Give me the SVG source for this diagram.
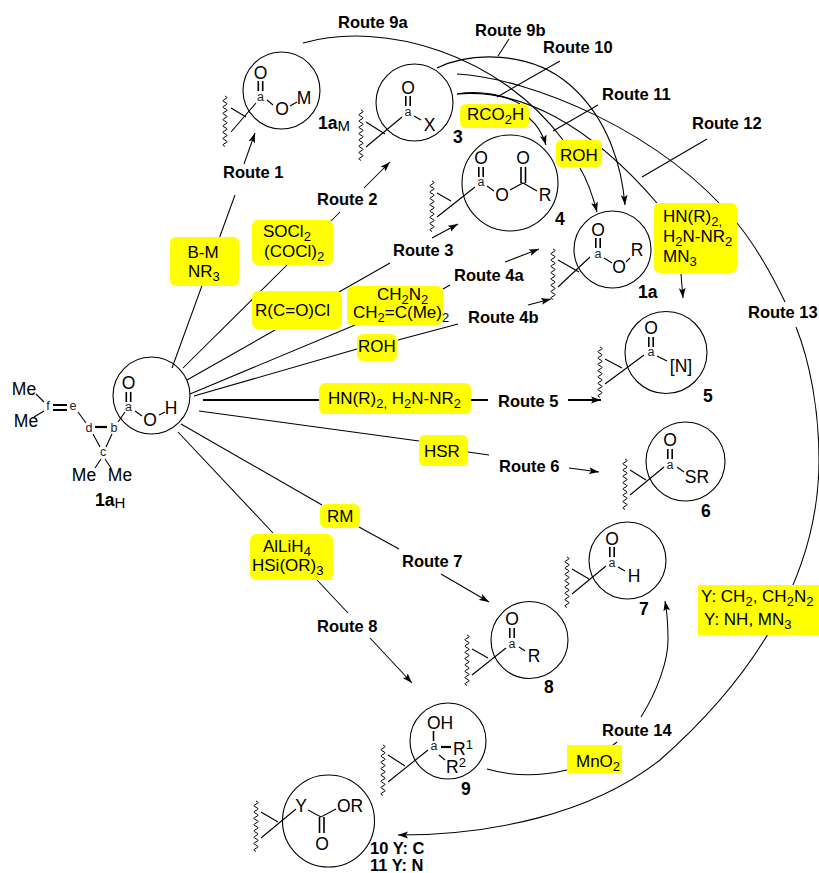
<svg xmlns="http://www.w3.org/2000/svg" width="819" height="873" viewBox="0 0 819 873">
<style>
text{font-family:"Liberation Sans",Arial,sans-serif;fill:#000}
.ring{fill:none;stroke:#000;stroke-width:1.1}
.b{fill:none;stroke:#000;stroke-width:1.1}
.d{fill:none;stroke:#000;stroke-width:1.6}
.t{fill:none;stroke:#000;stroke-width:2.2}
.w{fill:none;stroke:#000;stroke-width:1}
.c{fill:none;stroke:#000;stroke-width:1.05}
.ar{marker-end:url(#ah)}
.box{fill:#ffff00}
.at{font-size:17.5px;text-anchor:middle}
.atl{font-size:17.5px}
.sm{font-size:12.5px;text-anchor:middle;fill:#222}
.r{font-size:16.5px;font-weight:bold}
.n{font-size:17.5px;font-weight:bold}
.sub{font-size:15px;font-weight:normal}
.q{font-size:17px}
.s{font-size:13px}
</style>
<defs>
<marker id="ah" markerUnits="userSpaceOnUse" markerWidth="12" markerHeight="8" refX="10" refY="4" orient="auto"><path d="M0,0.6 L10,4 L0,7.4 L2.2,4 Z" fill="#000"/></marker>
<path id="wave" class="w" d="M0,0q4,1.6 0,3.15q-4,1.6 0,3.15q4,1.6 0,3.15q-4,1.6 0,3.15q4,1.6 0,3.15q-4,1.6 0,3.15q4,1.6 0,3.15q-4,1.6 0,3.15q4,1.6 0,3.15q-4,1.6 0,3.15q4,1.6 0,3.15q-4,1.6 0,3.15q4,1.6 0,3.15q-4,1.6 0,3.15q4,1.6 0,3.15q-4,1.6 0,3.15"/>
</defs>

<g id="connectors">
<path class="c" d="M172,368L235,195"/>
<path class="c ar" d="M244,164L255,133"/>
<path class="c" d="M183,368L287,265M331,221L340,212"/>
<path class="c ar" d="M364,188L390,162"/>
<path class="c" d="M187,380L275,330M339,292L390,263"/>
<path class="c ar" d="M432,238L458,224"/>
<path class="c" d="M190,394L355,325M443,289L450,285"/>
<path class="c ar" d="M505,262L539,249"/>
<path class="c" d="M194,396L357,349M398,340L458,324"/>
<path class="c ar" d="M528,305L551,299"/>
<path class="t" d="M203,400L320,400M471,400L488,400"/>
<path class="t ar" d="M568,400L601,400" style="stroke-width:1.8"/>
<path class="c" d="M199,411L419,441M468,452L489,455"/>
<path class="c ar" d="M569,468L599,472"/>
<path class="c" d="M181,424L322,505M359,527L399,549"/>
<path class="c ar" d="M441,574L489,602"/>
<path class="c" d="M178,432L273,533M317,580L348,613"/>
<path class="c ar" d="M370,638L412,683"/>
<path class="c" d="M303,43C385,20 500,55 563,140"/>
<path class="c ar" d="M580,168Q590,185 597,212"/>
<path class="c ar" d="M437,68C470,52 530,50 570,85C610,120 622,170 625,205"/>
<path class="c" d="M457,94C480,90 505,95 520,104"/>
<path class="c ar" d="M529,118Q541,128 546,145"/>
<path class="c" d="M457,94C520,88 590,125 657,203"/>
<path class="c ar" d="M681,274L683,298"/>
<path class="c" d="M457,74C530,78 660,130 737,223C755,245 772,275 785,302"/>
<path class="c ar" d="M796,327C810,362 819,410 819,460C819,570 760,672 660,760C590,815 490,835 398,835"/>
<path class="c" d="M509,39L498,56M560,61L497,97M598,105L553,131M707,139L642,177"/>
<path class="c" d="M487,769Q525,780 567,770M613,745L617,742"/>
<path class="c ar" d="M641,717C658,690 668,660 668,640C668,625 667,612 665,601"/>
</g>

<g id="reagents">
<g id="r-bm"><rect class="box" x="170" y="237" width="69" height="49" rx="6"/><text class="q" x="203" y="258" text-anchor="middle">B-M</text><text class="q" x="188" y="277">NR<tspan class="s" dy="4">3</tspan></text></g>
<g id="r-socl"><rect class="box" x="252" y="220" width="81" height="45" rx="6"/><text class="q" x="263" y="237">SOCl<tspan class="s" dy="4">2</tspan></text><text class="q" x="264" y="257">(COCl)<tspan class="s" dy="4">2</tspan></text></g>
<g id="r-rcocl"><rect class="box" x="252" y="291" width="90" height="38" rx="6"/><text class="q" x="255" y="316">R(C=O)Cl</text></g>
<g id="r-ch2n2"><rect class="box" x="347" y="286" width="96" height="39" rx="6"/><text class="q" x="377" y="300">CH<tspan class="s" dy="4">2</tspan><tspan dy="-4">N</tspan><tspan class="s" dy="4">2</tspan></text><text class="q" x="353" y="318">CH<tspan class="s" dy="4">2</tspan><tspan dy="-4">=C(Me)</tspan><tspan class="s" dy="4">2</tspan></text></g>
<g id="r-roh1"><rect class="box" x="357" y="334" width="40" height="27" rx="6"/><text class="q" x="358" y="352">ROH</text></g>
<g id="r-amine"><rect class="box" x="319" y="383" width="152" height="31" rx="6"/><text class="q" x="328" y="404">HN(R)<tspan class="s" dy="4">2,</tspan><tspan dy="-4"> H</tspan><tspan class="s" dy="4">2</tspan><tspan dy="-4">N-NR</tspan><tspan class="s" dy="4">2</tspan></text></g>
<g id="r-hsr"><rect class="box" x="419" y="435" width="49" height="31" rx="6"/><text class="q" x="424" y="457">HSR</text></g>
<g id="r-rm"><rect class="box" x="320" y="504" width="40" height="24" rx="6"/><text class="q" x="327" y="522">RM</text></g>
<g id="r-allih"><rect class="box" x="250" y="534" width="83" height="46" rx="6"/><text class="q" x="263" y="552">AlLiH<tspan class="s" dy="4">4</tspan></text><text class="q" x="252" y="571">HSi(OR)<tspan class="s" dy="4">3</tspan></text></g>
<g id="r-rco2h"><rect class="box" x="460" y="104" width="69" height="24" rx="6"/><text class="q" x="467" y="120">RCO<tspan class="s" dy="4">2</tspan><tspan dy="-4">H</tspan></text></g>
<g id="r-roh2"><rect class="box" x="556" y="140" width="46" height="27" rx="5"/><text class="q" x="560" y="161">ROH</text></g>
<g id="r-hn"><rect class="box" x="654" y="203" width="83" height="70" rx="6"/><text class="q" x="663" y="222">HN(R)<tspan class="s" dy="4">2,</tspan></text><text class="q" x="663" y="242">H<tspan class="s" dy="4">2</tspan><tspan dy="-4">N-NR</tspan><tspan class="s" dy="4">2</tspan></text><text class="q" x="663" y="262">MN<tspan class="s" dy="4">3</tspan></text></g>
<g id="r-y"><rect class="box" x="698" y="585" width="121" height="50"/><text class="q" x="701" y="602">Y: CH<tspan class="s" dy="4">2</tspan><tspan dy="-4">, CH</tspan><tspan class="s" dy="4">2</tspan><tspan dy="-4">N</tspan><tspan class="s" dy="4">2</tspan></text><text class="q" x="704" y="625">Y: NH, MN<tspan class="s" dy="4">3</tspan></text></g>
<g id="r-mno2"><rect class="box" x="567" y="745" width="55" height="28"/><text class="q" x="576" y="767">MnO<tspan class="s" dy="4">2</tspan></text></g>
</g>

<g id="route-labels">
<text class="r" x="338" y="28">Route 9a</text>
<text class="r" x="475" y="36">Route 9b</text>
<text class="r" x="543" y="53">Route 10</text>
<text class="r" x="602" y="100">Route 11</text>
<text class="r" x="692" y="129">Route 12</text>
<text class="r" x="748" y="318">Route 13</text>
<text class="r" x="223" y="178">Route 1</text>
<text class="r" x="317" y="205">Route 2</text>
<text class="r" x="393" y="256">Route 3</text>
<text class="r" x="454" y="281">Route 4a</text>
<text class="r" x="468" y="323">Route 4b</text>
<text class="r" x="498" y="407">Route 5</text>
<text class="r" x="499" y="472">Route 6</text>
<text class="r" x="402" y="567">Route 7</text>
<text class="r" x="317" y="632">Route 8</text>
<text class="r" x="602" y="736">Route 14</text>
</g>

<g id="n1aH">
<circle class="ring" cx="151.5" cy="395.5" r="38.5"/>
<text class="at" x="128.5" y="389">O</text><path class="d" d="M126.3,392V402M130.7,392V402"/>
<text class="sm" x="128.5" y="411">a</text>
<text class="at" x="150" y="426">O</text><text class="at" x="171" y="414">H</text>
<path class="b" d="M135,411L142,416M159,415L165,412M125,412L118,422"/>
<text class="sm" x="114" y="432">b</text><text class="sm" x="89" y="432">d</text><text class="sm" x="103" y="456">c</text><text class="sm" x="73" y="410">e</text><text class="sm" x="48" y="410">f</text>
<path class="t" d="M95,427H107"/>
<path class="b" d="M93,434L100,447M112,434L106,447M101,459L95,468M105,459L111,468M78,412L86,423M36,394L44,402M34,417L44,411"/>
<path class="d" d="M53,405H67M53,410H67" style="stroke-width:1.8"/>
<text class="at" x="24" y="395">Me</text><text class="at" x="26" y="427">Me</text><text class="at" x="84" y="481">Me</text><text class="at" x="120" y="481">Me</text>
<text class="n" x="95" y="506">1a<tspan class="sub" dy="2">H</tspan></text>
</g>

<g id="n1aM">
<circle class="ring" cx="281.5" cy="90.5" r="38.5"/>
<text class="at" x="260.5" y="79">O</text><path class="d" d="M258.3,81V91M262.7,81V91"/>
<text class="sm" x="260.5" y="101">a</text>
<text class="at" x="282" y="115">O</text><text class="at" x="304" y="104">M</text>
<path class="b" d="M267,100L273,105M290,106L297,102M256,103L231,132M231,108L246,117"/>
<use href="#wave" x="225" y="96"/>
<text class="n" x="318" y="129">1a<tspan class="sub" dy="2">M</tspan></text>
</g>

<g id="n3">
<circle class="ring" cx="414.5" cy="102.5" r="38.5"/>
<text class="at" x="408" y="94">O</text><path class="d" d="M405.8,96V106M410.2,96V106"/>
<text class="sm" x="408" y="116">a</text><text class="at" x="429.5" y="131">X</text>
<path class="b" d="M414,116L421,120M402,117L366,147M366,122L385,134"/>
<use href="#wave" x="361" y="110"/>
<text class="n" x="453" y="143">3</text>
</g>

<g id="n4">
<circle class="ring" cx="510" cy="183" r="48"/>
<text class="at" x="481" y="164">O</text><path class="d" d="M478.8,167V177M483.2,167V177"/>
<text class="sm" x="481" y="186">a</text><text class="at" x="502" y="201">O</text><text class="at" x="523" y="164">O</text><text class="at" x="545" y="201">R</text>
<path class="d" d="M521,167V183M525.500,167V183"/>
<path class="b" d="M487,186L494,191M510,190L523,183L537,191M475,187L437,217M437,193L451,201"/>
<use href="#wave" x="432" y="181"/>
<text class="n" x="555" y="225">4</text>
</g>

<g id="n1a">
<circle class="ring" cx="612.5" cy="249.5" r="38.500"/>
<text class="at" x="598" y="236">O</text><path class="d" d="M595.8,238V248M600.2,238V248"/>
<text class="sm" x="598" y="258">a</text><text class="at" x="619" y="273">O</text><text class="at" x="637" y="256">R</text>
<path class="b" d="M604,258L612,263M626,262L630,258M590,257L558,287M558,260L579,272"/>
<use href="#wave" x="553" y="249"/>
<text class="n" x="638" y="298">1a</text>
</g>

<g id="n5">
<circle class="ring" cx="666" cy="352.5" r="41"/>
<text class="at" x="651" y="334">O</text><path class="d" d="M648.8,337V347M653.2,337V347"/>
<text class="sm" x="651" y="356">a</text><text class="at" x="681" y="372">[N]</text>
<path class="b" d="M657,356L667,361M644,355L605,384M605,359L622,368"/>
<use href="#wave" x="600" y="347"/>
<text class="n" x="703" y="402">5</text>
</g>

<g id="n6">
<circle class="ring" cx="685.5" cy="461.500" r="39.5"/>
<text class="at" x="670" y="446">O</text><path class="d" d="M667.8,449V459M672.200,449V459"/>
<text class="sm" x="670" y="469">a</text><text class="at" x="697" y="483">SR</text>
<path class="b" d="M677,467L684,472M664,467L630,495M630,470L646,480"/>
<use href="#wave" x="625" y="459"/>
<text class="n" x="701" y="517">6</text>
</g>

<g id="n7">
<circle class="ring" cx="627.5" cy="560.500" r="38.5"/>
<text class="at" x="612" y="545">O</text><path class="d" d="M609.8,547V557M614.2,547V557"/>
<text class="sm" x="612" y="567">a</text><text class="at" x="634" y="582">H</text>
<path class="b" d="M618,567L625,571M606,566L572,594M572,569L589,579"/>
<use href="#wave" x="567" y="557"/>
<text class="n" x="639" y="615">7</text>
</g>

<g id="n8">
<circle class="ring" cx="529.500" cy="640" r="38.5"/>
<text class="at" x="512" y="625">O</text><path class="d" d="M509.800,628V638M514.200,628V638"/>
<text class="sm" x="512" y="648">a</text><text class="at" x="534" y="662">R</text>
<path class="b" d="M519,647L525,651M506,648L472,675M472,649L488,658"/>
<use href="#wave" x="467" y="635"/>
<text class="n" x="544" y="693">8</text>
</g>

<g id="n9">
<circle class="ring" cx="448" cy="741" r="38"/>
<text class="at" x="440" y="729">OH</text><path class="d" d="M433.500,731V741"/>
<text class="sm" x="434" y="750">a</text>
<path class="t" d="M441,747H451"/>
<text class="atl" x="453" y="755">R<tspan class="s" dy="-6">1</tspan></text>
<text class="atl" x="446" y="773">R<tspan class="s" dy="-6">2</tspan></text>
<path class="b" d="M439,755L445,760M428,750L388,782M388,755L405,766"/>
<use href="#wave" x="383" y="745"/>
<text class="n" x="461" y="795">9</text>
</g>

<g id="n10">
<circle class="ring" cx="328.500" cy="821" r="46"/>
<text class="at" x="301" y="812">Y</text><text class="at" x="350" y="812">OR</text><text class="at" x="322" y="850">O</text>
<path class="b" d="M308,810L321,817L336,809M296,809L261,838M261,812L278,822"/>
<path class="d" d="M319.500,817V833M324,817V833"/>
<use href="#wave" x="256" y="801"/>
<text class="n" x="370" y="854" style="font-size:16.5px">10 Y: C</text>
<text class="n" x="370" y="871" style="font-size:16.5px">11 Y: N</text>
</g>
</svg>
